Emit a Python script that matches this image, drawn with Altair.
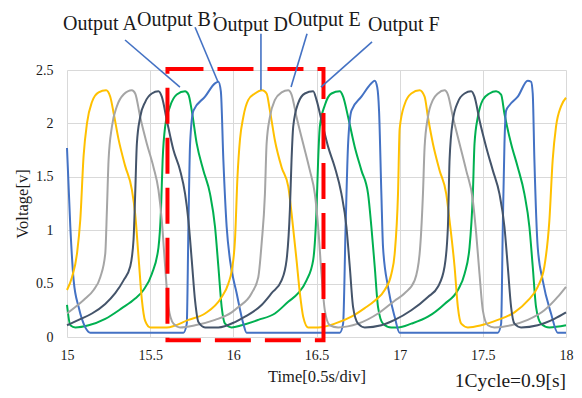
import altair as alt
import pandas as pd

# ---- data ----
series_names = ["Output A", "Output B\u2019", "Output D", "Output E", "Output F"]
series_colors = ["#00B050", "#4472C4", "#FFC000", "#A5A5A5", "#44546A"]

# Output D (yellow)
d_t = [15.0, 15.03, 15.06, 15.08, 15.10, 15.12, 15.15, 15.19, 15.235, 15.26, 15.28, 15.31, 15.35, 15.39,
       15.41, 15.43, 15.45, 15.47, 15.50, 15.60, 15.73, 15.83, 15.93, 15.97, 15.99, 16.01, 16.025, 16.04,
       16.06, 16.09, 16.13, 16.174, 16.20, 16.22, 16.25, 16.29, 16.33, 16.35, 16.38, 16.40, 16.42, 16.45,
       16.51, 16.61, 16.71, 16.79, 16.85, 16.91, 16.95, 16.97, 16.99, 17.0, 17.03, 17.07, 17.12, 17.15,
       17.17, 17.20, 17.24, 17.28, 17.30, 17.33, 17.35, 17.37, 17.41, 17.49, 17.59, 17.69, 17.77, 17.83,
       17.87, 17.90, 17.92, 17.94, 17.97, 18.0]
d_v = [0.44, 0.56, 0.78, 1.10, 1.70, 2.00, 2.20, 2.29, 2.31, 2.25, 2.10, 1.85, 1.60, 1.38,
       1.15, 0.75, 0.35, 0.15, 0.09, 0.09, 0.16, 0.22, 0.375, 0.50, 0.62, 0.91, 1.50, 1.85,
       2.06, 2.22, 2.28, 2.31, 2.28, 2.12, 1.84, 1.59, 1.41, 1.16, 0.72, 0.41, 0.19, 0.09,
       0.09, 0.125, 0.19, 0.27, 0.34, 0.44, 0.59, 0.78, 1.34, 1.95, 2.18, 2.28, 2.31, 2.25,
       2.06, 1.81, 1.56, 1.34, 1.09, 0.66, 0.28, 0.125, 0.09, 0.11, 0.16, 0.23, 0.34, 0.47,
       0.66, 1.09, 1.66, 1.97, 2.16, 2.24]

# Output E (gray)
e_t = [15.0, 15.05, 15.11, 15.16, 15.20, 15.23, 15.24, 15.25, 15.27, 15.30, 15.34, 15.39, 15.41, 15.44,
       15.48, 15.52, 15.55, 15.57, 15.59, 15.61, 15.64, 15.68, 15.77, 15.89, 15.99, 16.03, 16.11, 16.15,
       16.17, 16.19, 16.20, 16.22, 16.25, 16.29, 16.33, 16.35, 16.38, 16.42, 16.46, 16.49, 16.51, 16.53,
       16.55, 16.58, 16.63, 16.75, 16.87, 16.97, 17.03, 17.09, 17.12, 17.14, 17.15, 17.17, 17.20, 17.23,
       17.27, 17.29, 17.32, 17.36, 17.40, 17.44, 17.46, 17.48, 17.50, 17.53, 17.57, 17.67, 17.77, 17.87,
       17.95, 18.0]
e_v = [0.22, 0.28, 0.36, 0.44, 0.56, 0.78, 1.19, 1.66, 1.97, 2.16, 2.27, 2.31, 2.28, 2.06,
       1.81, 1.59, 1.375, 1.09, 0.66, 0.28, 0.125, 0.09, 0.11, 0.16, 0.23, 0.28, 0.41, 0.56,
       0.875, 1.34, 1.81, 2.06, 2.22, 2.29, 2.31, 2.27, 2.06, 1.81, 1.56, 1.34, 1.03, 0.59,
       0.25, 0.11, 0.09, 0.125, 0.22, 0.34, 0.41, 0.53, 0.78, 1.34, 1.78, 2.06, 2.22, 2.28,
       2.31, 2.27, 2.06, 1.81, 1.56, 1.28, 0.97, 0.59, 0.25, 0.11, 0.09, 0.11, 0.16, 0.25,
       0.375, 0.47]

# Output F (navy)
f_t = [15.0, 15.07, 15.15, 15.23, 15.29, 15.34, 15.38, 15.40, 15.41, 15.42, 15.44, 15.47, 15.51, 15.55,
       15.57, 15.60, 15.64, 15.68, 15.71, 15.73, 15.75, 15.77, 15.79, 15.83, 15.91, 16.01, 16.07, 16.17,
       16.23, 16.29, 16.32, 16.34, 16.35, 16.36, 16.39, 16.43, 16.48, 16.50, 16.53, 16.57, 16.61, 16.65,
       16.68, 16.70, 16.72, 16.75, 16.79, 16.89, 16.97, 17.07, 17.17, 17.23, 17.27, 17.29, 17.30, 17.32,
       17.35, 17.39, 17.43, 17.45, 17.48, 17.52, 17.56, 17.60, 17.63, 17.65, 17.67, 17.69, 17.73, 17.83,
       17.93, 18.0]
f_v = [0.11, 0.16, 0.22, 0.31, 0.41, 0.53, 0.66, 0.91, 1.34, 1.81, 2.06, 2.20, 2.28, 2.30,
       2.25, 2.03, 1.75, 1.56, 1.34, 1.09, 0.72, 0.34, 0.14, 0.09, 0.09, 0.14, 0.19, 0.30,
       0.41, 0.53, 0.72, 1.19, 1.66, 1.97, 2.19, 2.28, 2.30, 2.22, 2.03, 1.78, 1.59, 1.34,
       1.03, 0.66, 0.28, 0.125, 0.09, 0.11, 0.16, 0.25, 0.375, 0.47, 0.66, 1.03, 1.66, 2.03,
       2.20, 2.28, 2.30, 2.25, 2.03, 1.78, 1.56, 1.34, 1.03, 0.66, 0.28, 0.125, 0.09, 0.11,
       0.17, 0.23]

# Output A (green)
a_t = [15.0, 15.02, 15.05, 15.13, 15.23, 15.33, 15.41, 15.46, 15.51, 15.55, 15.565, 15.575, 15.59, 15.62,
       15.66, 15.71, 15.73, 15.75, 15.78, 15.82, 15.86, 15.89, 15.91, 15.93, 15.95, 15.99, 16.05, 16.15,
       16.25, 16.33, 16.39, 16.44, 16.48, 16.50, 16.51, 16.52, 16.55, 16.59, 16.64, 16.66, 16.69, 16.73,
       16.77, 16.81, 16.83, 16.85, 16.87, 16.90, 16.95, 16.99, 17.07, 17.17, 17.27, 17.35, 17.39, 17.42,
       17.44, 17.45, 17.47, 17.50, 17.54, 17.58, 17.61, 17.63, 17.67, 17.71, 17.75, 17.78, 17.80, 17.82,
       17.85, 17.90, 18.0]
a_v = [0.30, 0.11, 0.09, 0.11, 0.17, 0.27, 0.36, 0.44, 0.59, 0.84, 1.19, 1.66, 1.97, 2.16,
       2.27, 2.30, 2.27, 2.12, 1.81, 1.56, 1.34, 1.03, 0.66, 0.28, 0.125, 0.09, 0.11, 0.16,
       0.22, 0.33, 0.41, 0.53, 0.72, 1.19, 1.66, 1.97, 2.17, 2.28, 2.30, 2.25, 2.06, 1.78,
       1.56, 1.34, 1.03, 0.66, 0.28, 0.125, 0.09, 0.09, 0.125, 0.19, 0.31, 0.44, 0.59, 0.84,
       1.34, 1.81, 2.06, 2.22, 2.28, 2.30, 2.27, 2.09, 1.81, 1.59, 1.34, 1.03, 0.66, 0.28,
       0.125, 0.09, 0.11]

# Output B' (blue)
b_t = [15.0, 15.02, 15.04, 15.07, 15.11, 15.14, 15.70, 15.72, 15.73, 15.74, 15.76, 15.83, 15.89, 15.91,
       15.925, 15.94, 15.96, 15.98, 16.02, 16.06, 16.08, 16.64, 16.66, 16.675, 16.69, 16.71, 16.77, 16.83,
       16.85, 16.865, 16.876, 16.89, 16.90, 16.93, 16.97, 17.0, 17.59, 17.61, 17.62, 17.63, 17.64, 17.66,
       17.71, 17.77, 17.79, 17.80, 17.81, 17.83, 17.86, 17.91, 17.95, 18.0]
b_v = [1.77, 1.03, 0.53, 0.28, 0.09, 0.04, 0.04, 0.125, 1.03, 1.81, 2.12, 2.25, 2.375, 2.39,
       2.30, 1.66, 1.03, 0.72, 0.41, 0.125, 0.04, 0.04, 0.125, 1.03, 1.81, 2.12, 2.25, 2.375,
       2.40, 2.34, 2.12, 1.34, 0.84, 0.47, 0.19, 0.04, 0.04, 0.125, 1.03, 1.81, 2.12, 2.17,
       2.25, 2.40, 2.39, 2.28, 1.66, 0.84, 0.53, 0.22, 0.04, 0.04]

# annotation labels and leader lines (data coordinates)
ann_labels = ["Output A", "Output B\u2019", "Output D", "Output E", "Output F"]
ann_t = [14.976, 15.421, 15.878, 16.329, 16.810]
ann_v = [2.876, 2.912, 2.862, 2.915, 2.862]
lead_t1 = [15.349, 15.770, 16.166, 16.443, 16.834]
lead_v1 = [2.781, 2.900, 2.840, 2.840, 2.763]
lead_t2 = [15.679, 15.908, 16.166, 16.347, 16.527]
lead_v2 = [2.340, 2.388, 2.313, 2.340, 2.340]

# highlighted window (one cycle)
win_t = [15.604, 16.542]
win_v = [2.51, -0.031]

x_ticks = [15, 15.5, 16, 16.5, 17, 17.5, 18]
y_ticks = [0, 0.5, 1, 1.5, 2, 2.5]
cycle_note = "1Cycle=0.9[s]"

# ---- build tables ----
rows = []
for name, ts, vs in [("Output A", a_t, a_v), ("Output B\u2019", b_t, b_v), ("Output D", d_t, d_v),
                     ("Output E", e_t, e_v), ("Output F", f_t, f_v)]:
    for i, (t, v) in enumerate(zip(ts, vs)):
        rows.append({"series": name, "t": t, "v": v, "i": i})
lines_df = pd.DataFrame(rows)

ann_df = pd.DataFrame({"label": ann_labels, "t": ann_t, "v": ann_v})
lead_df = pd.DataFrame({"t1": lead_t1, "v1": lead_v1, "t2": lead_t2, "v2": lead_v2})
win_df = pd.DataFrame({"t1": [win_t[0]], "t2": [win_t[1]], "v1": [win_v[0]], "v2": [win_v[1]]})
note_df = pd.DataFrame({"t": [18.0], "v": [-0.467], "label": [cycle_note]})

FONT = "Liberation Serif"

xscale = alt.Scale(domain=[15, 18], nice=False, zero=False)
yscale = alt.Scale(domain=[0, 2.5], nice=False)

x_enc = alt.X("t:Q", scale=xscale, axis=alt.Axis(
    values=x_ticks, format="~g", title="Time[0.5s/div]", grid=True, gridColor="#D9D9D9", gridWidth=1,
    domain=False, ticks=False, tickSize=0, labelPadding=11, labelFontSize=14, labelFont=FONT,
    labelColor="#1a1a1a", titleFont=FONT, titleFontSize=16.5, titleFontWeight="normal",
    titleColor="#1a1a1a", titlePadding=6, labelFlush=False))
y_enc = alt.Y("v:Q", scale=yscale, axis=alt.Axis(
    values=y_ticks, format="~g", title="Voltage[v]", grid=True, gridColor="#D9D9D9", gridWidth=1,
    domain=False, ticks=False, tickSize=0, labelPadding=14, labelFontSize=14, labelFont=FONT,
    labelColor="#1a1a1a", titleFont=FONT, titleFontSize=16.5, titleFontWeight="normal",
    titleColor="#1a1a1a", titlePadding=5, labelFlush=False))

lines = alt.Chart(lines_df).mark_line(strokeWidth=2, interpolate="monotone").encode(
    x=x_enc, y=y_enc,
    color=alt.Color("series:N", scale=alt.Scale(domain=series_names, range=series_colors), legend=None),
    order="i:Q",
)

window = alt.Chart(win_df).mark_rect(
    fill="white", fillOpacity=0, stroke="#FF0000", strokeWidth=4, strokeDash=[36, 14]
).encode(
    x=alt.X("t1:Q", scale=xscale), x2="t2:Q",
    y=alt.Y("v1:Q", scale=yscale), y2="v2:Q",
)

leaders = alt.Chart(lead_df).mark_rule(color="#4472C4", strokeWidth=1.6).encode(
    x=alt.X("t1:Q", scale=xscale), x2="t2:Q",
    y=alt.Y("v1:Q", scale=yscale), y2="v2:Q",
)

labels = alt.Chart(ann_df).mark_text(
    align="left", baseline="alphabetic", font=FONT, fontSize=20, color="#1a1a1a"
).encode(
    x=alt.X("t:Q", scale=xscale), y=alt.Y("v:Q", scale=yscale), text="label:N"
)

note = alt.Chart(note_df).mark_text(
    align="right", baseline="alphabetic", font=FONT, fontSize=19.5, color="#1a1a1a"
).encode(
    x=alt.X("t:Q", scale=xscale), y=alt.Y("v:Q", scale=yscale), text="label:N"
)

chart = alt.layer(lines, window, leaders, labels, note).properties(
    width=499, height=267,
    autosize=alt.AutoSizeParams(type="none"),
    padding={"left": 59, "top": 62, "right": 8, "bottom": 58},
    background="white",
).configure_view(strokeWidth=0)

chart.save("out.html", embed_options={"renderer": "svg", "actions": False})
